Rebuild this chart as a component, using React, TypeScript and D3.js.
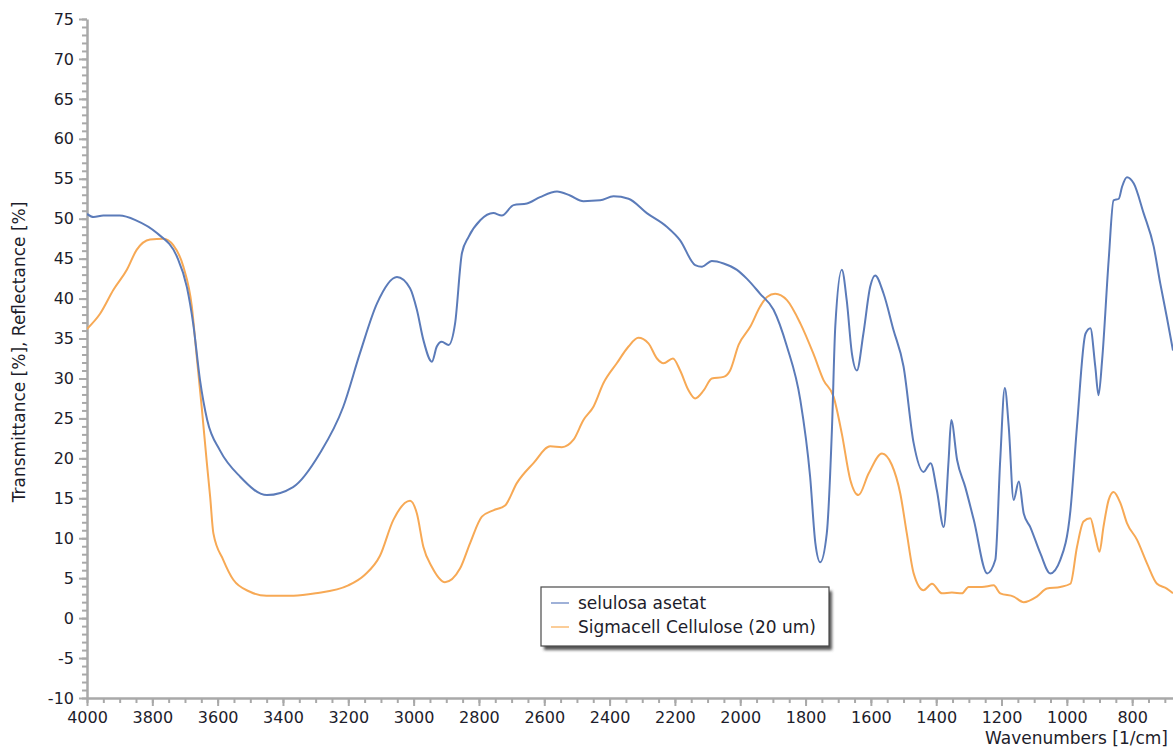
import * as d3 from "d3";
import { useEffect, useRef } from "react";

// wavenumber (1/cm) and transmittance (%)
const acetateWn = [4000, 3980, 3950, 3900, 3850, 3786, 3724, 3694, 3675, 3654, 3632, 3593, 3531, 3449, 3369, 3286, 3216, 3164, 3112, 3051, 3011, 2990, 2970, 2944, 2929, 2914, 2893, 2873, 2852, 2832, 2796, 2756, 2730, 2694, 2653, 2613, 2561, 2521, 2480, 2429, 2388, 2342, 2286, 2225, 2184, 2138, 2117, 2087, 2051, 2010, 1980, 1939, 1898, 1857, 1816, 1786, 1770, 1755, 1735, 1719, 1709, 1689, 1674, 1658, 1643, 1623, 1602, 1587, 1561, 1531, 1500, 1469, 1439, 1417, 1398, 1377, 1362, 1354, 1336, 1311, 1285, 1244, 1219, 1204, 1190, 1178, 1163, 1147, 1132, 1112, 1081, 1051, 1020, 989, 969, 943, 928, 913, 903, 892, 872, 857, 841, 831, 816, 795, 765, 734, 714, 694, 675];
const acetateT = [50.6, 50.2, 50.4, 50.4, 49.8, 48.2, 45.2, 41.4, 36.9, 29.8, 24.8, 21.0, 17.7, 15.4, 16.4, 20.7, 26.4, 33.2, 39.4, 42.7, 41.3, 38.6, 34.8, 32.1, 34.0, 34.6, 34.2, 36.9, 45.7, 47.7, 49.8, 50.7, 50.4, 51.7, 51.9, 52.7, 53.4, 52.9, 52.2, 52.3, 52.8, 52.5, 50.7, 49.0, 47.3, 44.2, 44.0, 44.7, 44.4, 43.6, 42.5, 40.6, 38.6, 34.0, 27.3, 17.7, 9.4, 7.0, 10.6, 23.9, 36.5, 43.6, 39.8, 33.1, 31.0, 35.6, 41.5, 42.9, 40.6, 36.1, 31.5, 21.9, 18.3, 19.4, 16.0, 11.4, 19.8, 24.8, 19.8, 16.4, 12.3, 5.6, 7.3, 19.8, 28.8, 24.0, 14.8, 17.1, 13.1, 11.4, 8.1, 5.6, 7.3, 13.5, 24.0, 35.6, 36.3, 31.5, 27.9, 32.3, 44.8, 52.3, 52.5, 54.0, 55.2, 54.4, 50.7, 46.5, 41.9, 37.7, 33.5];

const sigmacellWn = [4000, 3960, 3919, 3878, 3848, 3807, 3766, 3736, 3705, 3679, 3664, 3649, 3633, 3623, 3613, 3583, 3552, 3501, 3450, 3368, 3300, 3200, 3150, 3103, 3062, 3011, 2990, 2970, 2944, 2904, 2858, 2827, 2791, 2756, 2720, 2684, 2633, 2582, 2546, 2511, 2480, 2449, 2419, 2378, 2342, 2312, 2281, 2255, 2235, 2206, 2184, 2158, 2138, 2112, 2087, 2051, 2031, 2005, 1969, 1939, 1918, 1893, 1857, 1816, 1776, 1745, 1714, 1689, 1663, 1638, 1607, 1566, 1536, 1510, 1490, 1469, 1439, 1413, 1382, 1352, 1321, 1301, 1260, 1224, 1204, 1163, 1132, 1092, 1061, 1020, 989, 969, 949, 928, 913, 900, 888, 872, 857, 836, 816, 785, 754, 724, 694, 675];
const sigmacellT = [36.2, 38.1, 41.1, 43.6, 46.1, 47.4, 47.5, 46.7, 44.0, 39.0, 32.7, 26.5, 19.4, 15.2, 10.6, 7.3, 4.8, 3.3, 2.8, 2.8, 3.1, 4.1, 5.4, 7.8, 12.3, 14.7, 13.1, 8.9, 6.4, 4.5, 6.2, 9.4, 12.7, 13.5, 14.1, 16.9, 19.4, 21.5, 21.4, 22.3, 24.8, 26.5, 29.4, 31.9, 34.0, 35.1, 34.4, 32.5, 31.9, 32.5, 31.0, 28.5, 27.5, 28.5, 30.0, 30.2, 31.0, 34.2, 36.5, 39.0, 40.2, 40.6, 39.8, 36.9, 33.1, 29.8, 27.7, 23.1, 17.3, 15.4, 18.1, 20.6, 19.2, 15.6, 10.6, 5.6, 3.5, 4.3, 3.1, 3.2, 3.1, 3.9, 3.9, 4.1, 3.1, 2.7, 2.0, 2.7, 3.7, 3.9, 4.3, 8.9, 12.1, 12.5, 10.2, 8.3, 11.4, 14.8, 15.8, 14.4, 11.9, 9.8, 6.8, 4.3, 3.7, 3.1];

const seriesNames = ["selulosa asetat", "Sigmacell Cellulose (20 um)"];
const seriesColors = ["#5b7bb9", "#f7a955"];
const legendColors = ["#9fb1d8", "#fbcd98"];

const yMajor = d3.range(-10, 76, 5);
const yMinor = d3.range(-10, 76, 1);
const xMajor = d3.range(4000, 799, -200);
const xMinor = d3.range(4000, 674, -50);

export default function App() {
  const ref = useRef<SVGSVGElement>(null);

  useEffect(() => {
    const width = 1173;
    const height = 749;
    const left = 87, right = 1173, top = 19, bottom = 698;
    const font = "DejaVu Sans, Verdana, sans-serif";
    const axisColor = "#a9a9a9";
    const textColor = "#1d1d2b";

    const svg = d3.select(ref.current!)
      .attr("width", width)
      .attr("height", height);
    svg.selectAll("*").remove();

    const x = d3.scaleLinear().domain([4000, 675]).range([left, right]);
    const y = d3.scaleLinear().domain([-10, 75]).range([bottom, top]);

    const defs = svg.append("defs");
    defs.append("clipPath").attr("id", "plot")
      .append("rect").attr("x", left).attr("y", top - 2)
      .attr("width", right - left).attr("height", bottom - top + 2);
    const blur = defs.append("filter").attr("id", "shadow");
    blur.append("feGaussianBlur").attr("stdDeviation", 1.5);

    // minor ticks
    svg.append("g")
      .attr("transform", `translate(${left},0)`)
      .call(d3.axisLeft(y).tickValues(yMinor).tickSize(5).tickFormat(() => ""))
      .call(g => g.select(".domain").remove())
      .call(g => g.selectAll("line").attr("stroke", axisColor).attr("stroke-width", 2));
    svg.append("g")
      .attr("transform", `translate(0,${bottom})`)
      .call(d3.axisBottom(x).tickValues(xMinor).tickSize(5).tickFormat(() => ""))
      .call(g => g.select(".domain").remove())
      .call(g => g.selectAll("line").attr("stroke", axisColor).attr("stroke-width", 2));

    // major ticks + labels (plain hyphen for negatives, like the original)
    const fmt = (d: d3.NumberValue) => String(d);
    const yAxis = svg.append("g")
      .attr("transform", `translate(${left},0)`)
      .call(d3.axisLeft(y).tickValues(yMajor).tickSize(8).tickSizeOuter(0).tickPadding(5).tickFormat(fmt));
    yAxis.select(".domain").attr("stroke", axisColor).attr("stroke-width", 2.5);
    yAxis.selectAll("line").attr("stroke", axisColor).attr("stroke-width", 2);
    yAxis.selectAll("text").attr("fill", textColor).style("font-family", font).style("font-size", "16px");

    const xAxis = svg.append("g")
      .attr("transform", `translate(0,${bottom})`)
      .call(d3.axisBottom(x).tickValues(xMajor).tickSize(8).tickSizeOuter(0).tickPadding(6).tickFormat(fmt));
    xAxis.select(".domain").attr("stroke", axisColor).attr("stroke-width", 2.5);
    xAxis.selectAll("line").attr("stroke", axisColor).attr("stroke-width", 2);
    xAxis.selectAll("text").attr("fill", textColor).style("font-family", font).style("font-size", "16px");

    // axis titles
    svg.append("text")
      .attr("transform", `translate(25,352) rotate(-90)`)
      .attr("text-anchor", "middle")
      .attr("fill", textColor)
      .style("font-family", font).style("font-size", "17px")
      .text("Transmittance [%], Reflectance [%]");
    svg.append("text")
      .attr("x", 1168).attr("y", 744)
      .attr("text-anchor", "end")
      .attr("fill", textColor)
      .style("font-family", font).style("font-size", "17px")
      .text("Wavenumbers [1/cm]");

    // lines
    const line = d3.line<[number, number]>()
      .x(d => x(d[0]))
      .y(d => y(d[1]))
      .curve(d3.curveMonotoneX);

    const series = [
      d3.zip(acetateWn, acetateT) as [number, number][],
      d3.zip(sigmacellWn, sigmacellT) as [number, number][],
    ];
    const plot = svg.append("g").attr("clip-path", "url(#plot)");
    // draw orange first, blue on top
    [1, 0].forEach(i => {
      plot.append("path")
        .datum(series[i])
        .attr("fill", "none")
        .attr("stroke", seriesColors[i])
        .attr("stroke-width", 2)
        .attr("stroke-linejoin", "round")
        .attr("d", line);
    });

    // legend
    const lx = 541, ly = 587, lw = 288, lh = 59;
    const legend = svg.append("g");
    legend.append("rect")
      .attr("x", lx + 3).attr("y", ly + 4).attr("width", lw).attr("height", lh)
      .attr("fill", "#555").attr("filter", "url(#shadow)");
    legend.append("rect")
      .attr("x", lx).attr("y", ly).attr("width", lw).attr("height", lh)
      .attr("fill", "white").attr("stroke", "#4a4a4a").attr("stroke-width", 1.2);
    seriesNames.forEach((name, i) => {
      const cy = ly + 16 + i * 24;
      legend.append("line")
        .attr("x1", lx + 10).attr("x2", lx + 28)
        .attr("y1", cy).attr("y2", cy)
        .attr("stroke", legendColors[i]).attr("stroke-width", 2);
      legend.append("text")
        .attr("x", lx + 37).attr("y", cy + 6)
        .attr("fill", textColor)
        .style("font-family", font).style("font-size", "17px")
        .text(name);
    });
  }, []);

  return (
    <div style={{ position: "absolute", left: 0, top: 0 }}>
      <svg ref={ref} style={{ display: "block", background: "white" }}></svg>
    </div>
  );
}
